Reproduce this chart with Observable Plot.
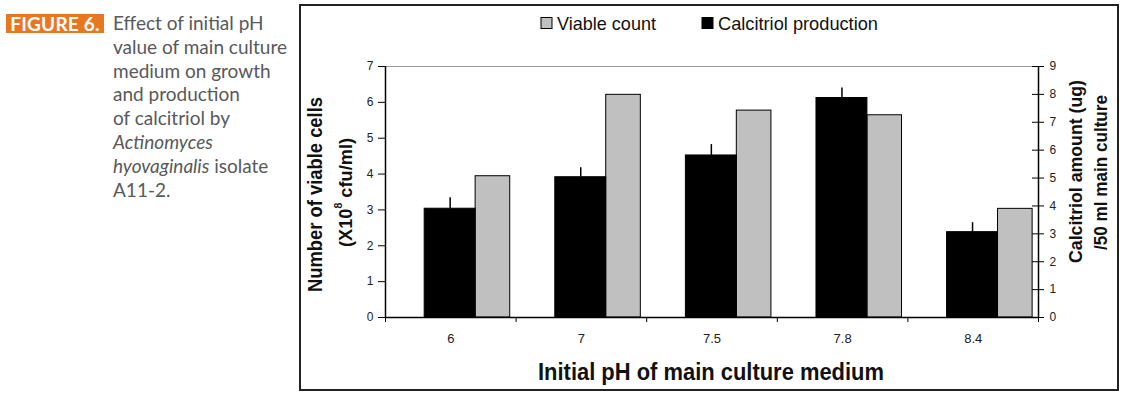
<!DOCTYPE html>
<html>
<head>
<meta charset="utf-8">
<script src="https://cdn.jsdelivr.net/npm/d3@7"></script>
<script src="https://cdn.jsdelivr.net/npm/@observablehq/plot@0.6"></script>
<style>
  html, body { margin: 0; padding: 0; background: #fff; }
  body { width: 1129px; height: 405px; position: relative; overflow: hidden; }
  #badge { position: absolute; left: 6px; top: 14px; width: 98px; height: 19px; background: #E87722;
           color: #fff; font: bold 19px/19px Lato, "Open Sans", sans-serif; text-align: center; letter-spacing: 0.2px; }
  #cap { position: absolute; left: 113px; top: 11px; font: 19px/23.8px Lato, "Open Sans", sans-serif; color: #58595b; }
  #frame { position: absolute; left: 299px; top: 4px; width: 820px; height: 387px; border: 2px solid #222; box-sizing: border-box; }
  #frame svg { display: block; }
</style>
</head>
<body>
<div id="badge">FIGURE 6.</div>
<div id="cap">Effect of initial pH<br>value of main culture<br>medium on growth<br>and production<br>of calcitriol by<br><i>Actinomyces</i><br><i>hyovaginalis</i> isolate<br>A11-2.</div>
<div id="frame"></div>
<script>
// ---- data ----
const pHLabels = ["6", "7", "7.5", "7.8", "8.4"];
const viableCount = [3.94, 6.21, 5.77, 5.64, 3.03];          // X10^8 cfu/ml (left axis)
const calcitriolProduction = [3.9, 5.03, 5.81, 7.87, 3.06];  // ug /50 ml (right axis)
const calcitriolError = [0.39, 0.34, 0.39, 0.36, 0.34];
const leftTicks = [0, 1, 2, 3, 4, 5, 6, 7];
const rightTicks = [0, 1, 2, 3, 4, 5, 6, 7, 8, 9];

const leftMax = 7, rightMax = 9;
const k = leftMax / rightMax; // map right-axis units into left-axis scale

const rows = pHLabels.map((p, i) => ({
  i, p,
  viable: viableCount[i],
  calc: calcitriolProduction[i] * k,
  top: (calcitriolProduction[i] + calcitriolError[i]) * k
}));

const font = '"Liberation Sans", Arial, sans-serif';

const plot = Plot.plot({
  width: 816, height: 383,
  marginLeft: 84, marginRight: 79, marginTop: 60, marginBottom: 72,
  style: { fontFamily: font, fontSize: "12px", color: "#222", background: "transparent" },
  x: { type: "linear", domain: [0, pHLabels.length], axis: null },
  y: { domain: [0, leftMax], axis: null },
  marks: [
    Plot.rectY(rows, { x1: d => d.i + 0.69, x2: d => d.i + 0.955, y1: 0, y2: "viable", fill: "#c0c0c0", stroke: "#000", strokeWidth: 1 }),
    Plot.rectY(rows, { x1: d => d.i + 0.30, x2: d => d.i + 0.69, y1: 0, y2: "calc", fill: "#000", stroke: "#000", strokeWidth: 1 }),
    Plot.ruleX(rows, { x: d => d.i + 0.495, y1: "calc", y2: "top", stroke: "#000", strokeWidth: 1.5 }),
    Plot.ruleY([leftMax], { stroke: "#9a9a9a", strokeWidth: 1 }),
    Plot.ruleX([0], { stroke: "#000", strokeWidth: 1.5 }),
    Plot.ruleX([pHLabels.length], { stroke: "#000", strokeWidth: 1.5 }),
    Plot.ruleY([0], { stroke: "#000", strokeWidth: 1.5 }),
    Plot.axisY(leftTicks, { anchor: "left", tickSize: 7, tickPadding: 5, label: null, fontSize: 12, stroke: "#000" }),
    Plot.axisY(rightTicks.map(v => v * k), { anchor: "right", tickSize: 12, dx: -7, tickFormat: () => "", label: null, stroke: "#000" }),
    Plot.axisY(rightTicks.map(v => v * k), { anchor: "right", tickSize: 0, tickPadding: 11, tickFormat: v => String(Math.round(v / k)), label: null, fontSize: 12 }),
    Plot.axisX(d3.range(0, pHLabels.length + 1), { anchor: "bottom", tickSize: 5, tickFormat: () => "", label: null, stroke: "#000" }),
    Plot.axisX(pHLabels.map((p, i) => i + 0.5), { anchor: "bottom", tickSize: 0, tickPadding: 16, tickFormat: v => pHLabels[Math.round(v - 0.5)], label: null, fontSize: 13 })
  ]
});

document.getElementById("frame").appendChild(plot);

// ---- titles & legend ----
const svg = d3.select(plot);
function title(x, y, size, len, rotate) {
  return svg.append("text")
    .attr("transform", `translate(${x},${y})` + (rotate ? " rotate(-90)" : ""))
    .attr("text-anchor", "middle")
    .attr("dominant-baseline", rotate ? "central" : "auto")
    .attr("font-family", font).attr("font-weight", "bold").attr("font-size", size)
    .attr("fill", "#111")
    .attr("textLength", len).attr("lengthAdjust", "spacingAndGlyphs");
}
title(410, 374, 23, 346, false).text("Initial pH of main culture medium");
title(14, 188.5, 20, 195, true).text("Number of viable cells");
const t2 = title(44, 186.5, 19, 109, true);
t2.append("tspan").text("(X10");
t2.append("tspan").attr("font-size", 11).attr("dy", -7).text("8");
t2.append("tspan").attr("dy", 7).text(" cfu/ml)");
title(774, 165.5, 19, 183, true).text("Calcitriol amount (ug)");
title(799, 166.5, 19, 155, true).text("/50 ml main culture");

const legend = [
  { name: "Viable count", fill: "#c0c0c0", x: 240, len: 99 },
  { name: "Calcitriol production", fill: "#000", x: 401, len: 160 }
];
legend.forEach(l => {
  svg.append("rect").attr("x", l.x).attr("y", 11.5).attr("width", 11).attr("height", 11)
    .attr("fill", l.fill).attr("stroke", "#000").attr("stroke-width", 1);
  svg.append("text").attr("x", l.x + 16).attr("y", 24).attr("text-anchor", "start")
    .attr("font-family", font).attr("font-size", 19).attr("fill", "#111")
    .attr("textLength", l.len).attr("lengthAdjust", "spacingAndGlyphs").text(l.name);
});
</script>
</body>
</html>
